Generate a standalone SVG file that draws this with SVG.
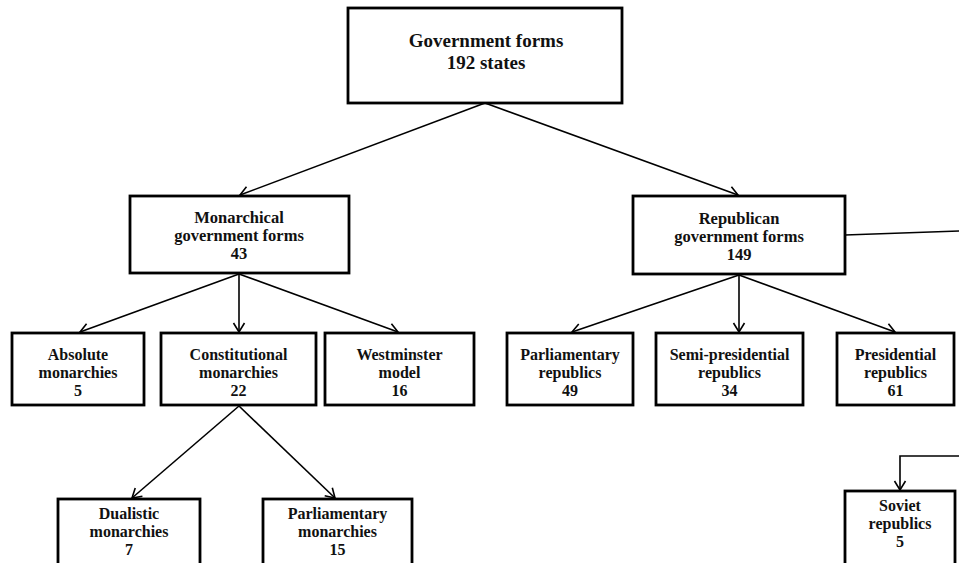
<svg xmlns="http://www.w3.org/2000/svg" width="959" height="563" viewBox="0 0 959 563">
<defs>
<style>
.box{fill:#fff;stroke:#000;stroke-width:2.8}
.t{font-family:"Liberation Serif","Times New Roman",serif;font-weight:bold;font-size:16px;text-anchor:middle;fill:#111}
.tt{font-size:19px}
.t2{font-size:16.5px}
.c{fill:none;stroke:#000;stroke-width:1.6}
</style>
<marker id="a" markerUnits="userSpaceOnUse" markerWidth="20" markerHeight="20" refX="0" refY="0" viewBox="-12 -10 14 20" orient="auto">
<path d="M-9,-5.5 L0,0 L-9,5.5" fill="none" stroke="#000" stroke-width="1.6"/>
</marker>
</defs>
<rect width="959" height="563" fill="#fff"/>
<g id="connectors">
<line class="c" x1="485" y1="103" x2="240" y2="195" marker-end="url(#a)"/>
<line class="c" x1="485" y1="103" x2="738" y2="195" marker-end="url(#a)"/>
<line class="c" x1="239" y1="274" x2="80" y2="332" marker-end="url(#a)"/>
<line class="c" x1="239" y1="274" x2="239" y2="332" marker-end="url(#a)"/>
<line class="c" x1="239" y1="274" x2="398" y2="332" marker-end="url(#a)"/>
<line class="c" x1="739" y1="275" x2="572" y2="332" marker-end="url(#a)"/>
<line class="c" x1="739" y1="275" x2="739" y2="332" marker-end="url(#a)"/>
<line class="c" x1="739" y1="275" x2="895" y2="332" marker-end="url(#a)"/>
<line class="c" x1="239" y1="406" x2="132" y2="498" marker-end="url(#a)"/>
<line class="c" x1="239" y1="406" x2="335" y2="498" marker-end="url(#a)"/>
<line class="c" x1="845" y1="235" x2="959" y2="231"/>
<polyline class="c" points="959,456 900,456 900,490" marker-end="url(#a)"/>
</g>
<g id="root">
<rect class="box" x="348" y="8" width="274" height="95"/>
<text class="t tt" x="486" y="47">Government forms</text>
<text class="t tt" x="486" y="69">192 states</text>
</g>
<g id="monarchical">
<rect class="box" x="130" y="196" width="219" height="77"/>
<text class="t t2" x="239" y="223">Monarchical</text>
<text class="t t2" x="239" y="241">government forms</text>
<text class="t t2" x="239" y="259">43</text>
</g>
<g id="republican">
<rect class="box" x="633" y="196" width="212" height="78"/>
<text class="t t2" x="739" y="224">Republican</text>
<text class="t t2" x="739" y="242">government forms</text>
<text class="t t2" x="739" y="260">149</text>
</g>
<g id="absolute">
<rect class="box" x="12" y="333" width="132" height="72"/>
<text class="t" x="78" y="360">Absolute</text>
<text class="t" x="78" y="378">monarchies</text>
<text class="t" x="78" y="396">5</text>
</g>
<g id="constitutional">
<rect class="box" x="161" y="333" width="155" height="72"/>
<text class="t" x="238.5" y="360">Constitutional</text>
<text class="t" x="238.5" y="378">monarchies</text>
<text class="t" x="238.5" y="396">22</text>
</g>
<g id="westminster">
<rect class="box" x="325" y="333" width="149" height="72"/>
<text class="t" x="399.5" y="360">Westminster</text>
<text class="t" x="399.5" y="378">model</text>
<text class="t" x="399.5" y="396">16</text>
</g>
<g id="parl-republics">
<rect class="box" x="507" y="333" width="126" height="72"/>
<text class="t" x="570" y="360">Parliamentary</text>
<text class="t" x="570" y="378">republics</text>
<text class="t" x="570" y="396">49</text>
</g>
<g id="semi-presidential">
<rect class="box" x="656" y="333" width="147" height="72"/>
<text class="t" x="729.5" y="360">Semi-presidential</text>
<text class="t" x="729.5" y="378">republics</text>
<text class="t" x="729.5" y="396">34</text>
</g>
<g id="presidential">
<rect class="box" x="837" y="333" width="117" height="72"/>
<text class="t" x="895.5" y="360">Presidential</text>
<text class="t" x="895.5" y="378">republics</text>
<text class="t" x="895.5" y="396">61</text>
</g>
<g id="dualistic">
<rect class="box" x="58" y="499" width="142" height="72"/>
<text class="t" x="129" y="519">Dualistic</text>
<text class="t" x="129" y="537">monarchies</text>
<text class="t" x="129" y="555">7</text>
</g>
<g id="parl-monarchies">
<rect class="box" x="263" y="499" width="149" height="72"/>
<text class="t" x="337.5" y="519">Parliamentary</text>
<text class="t" x="337.5" y="537">monarchies</text>
<text class="t" x="337.5" y="555">15</text>
</g>
<g id="soviet">
<rect class="box" x="845" y="491" width="110" height="80"/>
<text class="t" x="900" y="511">Soviet</text>
<text class="t" x="900" y="529">republics</text>
<text class="t" x="900" y="547">5</text>
</g>
</svg>
